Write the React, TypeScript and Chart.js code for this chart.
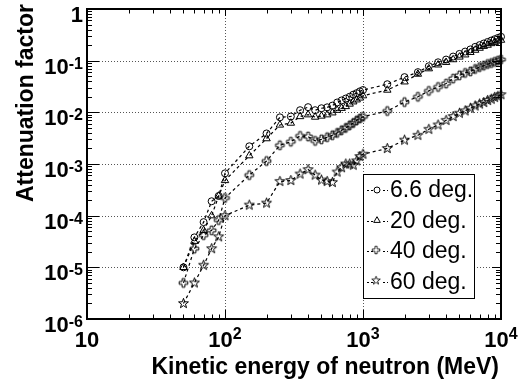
import React, { useEffect, useRef } from "react";
import { Chart, registerables } from "chart.js";
Chart.register(...registerables);

// ---------------- data ----------------
const energies = [
  50, 60, 70, 80, 90, 100, 150, 200,
  250, 300, 350, 400, 450, 500, 550, 600, 650, 700, 750, 800, 850, 900, 950, 1000,
  1500, 2000, 2500, 3000, 3500, 4000, 4500, 5000, 5500, 6000, 6500, 7000, 7500, 8000, 8500, 9000, 9500, 10000,
];

const att6_6 = [
  1.0e-5, 3.8e-5, 7.5e-5, 1.9e-4, 2.4e-4, 6.6e-4, 2.2e-3, 3.9e-3,
  8.0e-3, 8.3e-3, 1.1e-2, 1.26e-2, 1.1e-2, 1.2e-2, 1.25e-2, 1.35e-2, 1.55e-2, 1.7e-2, 1.85e-2, 2.0e-2, 2.2e-2, 2.35e-2, 2.55e-2, 2.7e-2,
  3.5e-2, 4.8e-2, 6.0e-2, 7.8e-2, 9.3e-2, 0.105, 0.12, 0.135, 0.15, 0.165, 0.185, 0.2, 0.215, 0.23, 0.245, 0.26, 0.275, 0.29,
];

const att20 = [
  1.0e-5, 3.2e-5, 5.2e-5, 1.0e-4, 2.4e-4, 4.8e-4, 1.45e-3, 3.1e-3,
  5.7e-3, 6.2e-3, 8.3e-3, 9.0e-3, 8.1e-3, 8.5e-3, 9.0e-3, 9.8e-3, 1.1e-2, 1.2e-2, 1.3e-2, 1.45e-2, 1.6e-2, 1.75e-2, 1.9e-2, 2.1e-2,
  2.7e-2, 3.9e-2, 5.5e-2, 7.0e-2, 8.3e-2, 9.3e-2, 0.105, 0.118, 0.13, 0.145, 0.16, 0.175, 0.19, 0.2, 0.215, 0.225, 0.24, 0.25,
];

const att40 = [
  5.0e-6, 2.3e-5, 4.2e-5, 5.2e-5, 8.2e-5, 2.2e-4, 6.1e-4, 1.14e-3,
  2.3e-3, 2.7e-3, 3.5e-3, 3.4e-3, 2.8e-3, 3.0e-3, 3.3e-3, 3.6e-3, 4.0e-3, 4.5e-3, 5.0e-3, 5.6e-3, 6.2e-3, 7.0e-3, 7.6e-3, 8.2e-3,
  1.06e-2, 1.58e-2, 2.0e-2, 2.6e-2, 3.1e-2, 3.6e-2, 4.5e-2, 5.2e-2, 5.8e-2, 6.2e-2, 6.9e-2, 7.5e-2, 8.0e-2, 8.6e-2, 9.0e-2, 9.5e-2, 0.1, 0.105,
];

const att60 = [
  2.0e-6, 5.0e-6, 1.1e-5, 2.3e-5, 3.9e-5, 1.0e-4, 1.6e-4, 1.75e-4,
  4.6e-4, 4.8e-4, 6.4e-4, 7.8e-4, 6.1e-4, 4.9e-4, 4.6e-4, 4.4e-4, 7.0e-4, 8.5e-4, 1.0e-3, 1.0e-3, 9.5e-4, 1.15e-3, 1.4e-3, 1.55e-3,
  2.0e-3, 2.9e-3, 3.6e-3, 4.7e-3, 5.7e-3, 7.0e-3, 8.3e-3, 9.6e-3, 1.07e-2, 1.2e-2, 1.33e-2, 1.45e-2, 1.55e-2, 1.7e-2, 1.8e-2, 1.95e-2, 2.05e-2, 2.2e-2,
];

const seriesLabels = ["6.6 deg.", "20 deg.", "40 deg.", "60 deg."];
const seriesMarkers = ["circle", "triangle", "cross", "star"];

const xTickValues = [10, 100, 1000, 10000];
const xTickBase = ["10", "10", "10", "10"];
const xTickExp = ["", "2", "3", "4"];

const yTickValues = [1, 1e-1, 1e-2, 1e-3, 1e-4, 1e-5, 1e-6];
const yTickBase = ["1", "10", "10", "10", "10", "10", "10"];
const yTickExp = ["", "-1", "-2", "-3", "-4", "-5", "-6"];

const xTitle = "Kinetic energy of neutron (MeV)";
const yTitle = "Attenuation factor";

// ---------------- helpers ----------------
const FONT = "'Liberation Sans', Arial, Helvetica, sans-serif";

function makeImageMarker(kind: string): HTMLCanvasElement {
  const c = document.createElement("canvas");
  c.width = 13;
  c.height = 13;
  const g = c.getContext("2d")!;
  g.strokeStyle = "#000";
  g.lineWidth = 1;
  const cx = 6.5, cy = 6.5;
  g.beginPath();
  if (kind === "star") {
    const R = 5.2, r = 2.1;
    for (let i = 0; i < 10; i++) {
      const rad = i % 2 === 0 ? R : r;
      const a = -Math.PI / 2 + (i * Math.PI) / 5;
      const px = cx + rad * Math.cos(a);
      const py = cy + rad * Math.sin(a);
      if (i === 0) g.moveTo(px, py);
      else g.lineTo(px, py);
    }
    g.closePath();
  } else {
    const a = 1.4, L = 4.3;
    const pts = [
      [-a, -L], [a, -L], [a, -a], [L, -a], [L, a], [a, a],
      [a, L], [-a, L], [-a, a], [-L, a], [-L, -a], [-a, -a],
    ];
    pts.forEach(([dx, dy], i) => {
      if (i === 0) g.moveTo(cx + dx, cy + dy);
      else g.lineTo(cx + dx, cy + dy);
    });
    g.closePath();
  }
  g.stroke();
  return c;
}

function drawMarker(ctx: CanvasRenderingContext2D, kind: string, x: number, y: number, imgs: Record<string, HTMLCanvasElement>) {
  ctx.save();
  ctx.setLineDash([]);
  ctx.strokeStyle = "#000";
  ctx.lineWidth = 1;
  if (kind === "circle") {
    ctx.beginPath();
    ctx.arc(x, y, 3, 0, Math.PI * 2);
    ctx.stroke();
  } else if (kind === "triangle") {
    const r = 3.8;
    ctx.beginPath();
    ctx.moveTo(x, y - r);
    ctx.lineTo(x + r * 0.866, y + r * 0.5);
    ctx.lineTo(x - r * 0.866, y + r * 0.5);
    ctx.closePath();
    ctx.stroke();
  } else {
    const im = imgs[kind];
    ctx.drawImage(im, x - im.width / 2, y - im.height / 2, im.width * 0.85, im.height * 0.85);
  }
  ctx.restore();
}

export default function App() {
  const ref = useRef<HTMLCanvasElement>(null);

  useEffect(() => {
    const imgs: Record<string, HTMLCanvasElement> = {
      star: makeImageMarker("star"),
      cross: makeImageMarker("cross"),
    };
    const pointStyleFor = (k: string): any =>
      k === "circle" ? "circle" : k === "triangle" ? "triangle" : imgs[k];
    const radiusFor = (k: string) => (k === "circle" ? 3.5 : k === "triangle" ? 4.3 : 6);

    const allSeries = [att6_6, att20, att40, att60];

    const decor = {
      id: "decor",
      beforeDatasetsDraw(chart: any) {
        const { ctx, chartArea: a, scales } = chart;
        const xs = scales.x, ys = scales.y;
        ctx.save();
        ctx.strokeStyle = "#555";
        ctx.lineWidth = 1;
        ctx.setLineDash([1, 2]);
        [1e-1, 1e-2, 1e-3, 1e-4, 1e-5].forEach((v) => {
          const py = Math.round(ys.getPixelForValue(v)) + 0.5;
          ctx.beginPath();
          ctx.moveTo(a.left, py);
          ctx.lineTo(a.right, py);
          ctx.stroke();
        });
        [100, 1000].forEach((v) => {
          const px = Math.round(xs.getPixelForValue(v)) + 0.5;
          ctx.beginPath();
          ctx.moveTo(px, a.top);
          ctx.lineTo(px, a.bottom);
          ctx.stroke();
        });
        ctx.restore();
      },
      afterDatasetsDraw(chart: any) {
        const { ctx, chartArea: a, scales } = chart;
        const xs = scales.x, ys = scales.y;
        ctx.save();
        ctx.setLineDash([]);
        ctx.strokeStyle = "#000";
        ctx.fillStyle = "#000";

        // ticks
        ctx.lineWidth = 1;
        for (let d = -6; d <= 0; d++) {
          for (let k = 1; k <= 9; k++) {
            const v = k * Math.pow(10, d);
            if (v > 1.0000001 || v < 0.9999e-6) continue;
            const py = Math.round(ys.getPixelForValue(v)) + 0.5;
            const major = k === 1;
            ctx.beginPath();
            ctx.moveTo(a.left, py);
            ctx.lineTo(a.left + (major ? 12 : 5), py);
            ctx.moveTo(a.right, py);
            ctx.lineTo(a.right - (major ? 9 : 5), py);
            ctx.stroke();
          }
        }
        for (let d = 1; d <= 4; d++) {
          for (let k = 1; k <= 9; k++) {
            const v = k * Math.pow(10, d);
            if (v > 10000.001) continue;
            const px = Math.round(xs.getPixelForValue(v)) + 0.5;
            const major = k === 1;
            ctx.beginPath();
            ctx.moveTo(px, a.bottom);
            ctx.lineTo(px, a.bottom - (major ? 9 : 4.5));
            ctx.moveTo(px, a.top);
            ctx.lineTo(px, a.top + (major ? 7 : 4.5));
            ctx.stroke();
          }
        }

        // frame
        ctx.lineWidth = 2;
        ctx.strokeRect(a.left, a.top, a.right - a.left, a.bottom - a.top);

        // y tick labels
        const baseFont = `bold 22px ${FONT}`;
        const expFont = `bold 16px ${FONT}`;
        ctx.textAlign = "left";
        ctx.textBaseline = "alphabetic";
        yTickValues.forEach((v, i) => {
          const py = ys.getPixelForValue(v);
          ctx.font = baseFont;
          const wb = ctx.measureText(yTickBase[i]).width;
          ctx.font = expFont;
          const we = yTickExp[i] ? ctx.measureText(yTickExp[i]).width : 0;
          const start = 83 - wb - we;
          ctx.font = baseFont;
          ctx.fillText(yTickBase[i], start, py + 13);
          if (yTickExp[i]) {
            ctx.font = expFont;
            ctx.fillText(yTickExp[i], start + wb, py + 8);
          }
        });
        // x tick labels
        xTickValues.forEach((v, i) => {
          const px = xs.getPixelForValue(v);
          ctx.font = baseFont;
          const wb = ctx.measureText(xTickBase[i]).width;
          ctx.font = expFont;
          const we = xTickExp[i] ? ctx.measureText(xTickExp[i]).width : 0;
          const start = px - (wb + we) / 2;
          ctx.font = baseFont;
          ctx.fillText(xTickBase[i], start, a.bottom + 28);
          if (xTickExp[i]) {
            ctx.font = expFont;
            ctx.fillText(xTickExp[i], start + wb, a.bottom + 20);
          }
        });

        // axis titles
        ctx.font = `bold 23px ${FONT}`;
        ctx.textAlign = "right";
        ctx.fillText(xTitle, a.right - 2, 374);
        ctx.save();
        ctx.translate(33, 4);
        ctx.rotate(-Math.PI / 2);
        ctx.textAlign = "right";
        ctx.fillText(yTitle, 0, 0);
        ctx.restore();

        // legend
        const lx = 363, ly = 174, lw = 111, lh = 124;
        ctx.fillStyle = "#fff";
        ctx.fillRect(lx, ly, lw, lh);
        ctx.lineWidth = 1;
        ctx.strokeStyle = "#000";
        ctx.strokeRect(lx + 0.5, ly + 0.5, lw, lh);
        ctx.font = `23px ${FONT}`;
        ctx.textAlign = "left";
        ctx.textBaseline = "middle";
        ctx.fillStyle = "#000";
        seriesLabels.forEach((lab, i) => {
          const cy = 190 + i * 30.5;
          ctx.save();
          ctx.setLineDash([2, 2]);
          ctx.lineWidth = 1;
          ctx.beginPath();
          ctx.moveTo(367, Math.round(cy) + 0.5);
          ctx.lineTo(388, Math.round(cy) + 0.5);
          ctx.stroke();
          ctx.restore();
          ctx.save();
          ctx.fillStyle = "#fff";
          ctx.fillRect(373, cy - 4, 8, 8);
          ctx.restore();
          drawMarker(ctx, seriesMarkers[i], 377, cy, imgs);
          ctx.fillText(lab, 390, cy + 1);
        });
        ctx.restore();
      },
    };

    const chart = new Chart(ref.current!, {
      type: "line",
      data: {
        datasets: allSeries.map((vals, si) => ({
          label: seriesLabels[si],
          data: energies.map((e, i) => ({ x: e, y: vals[i] })),
          borderColor: "#000",
          borderWidth: 1.2,
          borderDash: [3, 3],
          backgroundColor: "rgba(0,0,0,0)",
          pointStyle: pointStyleFor(seriesMarkers[si]),
          pointRadius: radiusFor(seriesMarkers[si]),
          pointBorderColor: "#000",
          pointBackgroundColor: "rgba(0,0,0,0)",
          pointBorderWidth: 1,
          fill: false,
          tension: 0,
          clip: false as any,
        })),
      },
      options: {
        responsive: false,
        animation: false,
        devicePixelRatio: 1,
        layout: { padding: { left: 87, right: 28, top: 9, bottom: 64 } },
        plugins: { legend: { display: false }, tooltip: { enabled: false } },
        scales: {
          x: { type: "logarithmic", min: 10, max: 10000, display: false },
          y: { type: "logarithmic", min: 1e-6, max: 1, display: false },
        },
      },
      plugins: [decor],
    });
    return () => chart.destroy();
  }, []);

  return (
    <div style={{ position: "fixed", left: 0, top: 0, width: 529, height: 383, background: "#fff" }}>
      <canvas ref={ref} width={529} height={383} style={{ width: 529, height: 383, display: "block" }} />
    </div>
  );
}
